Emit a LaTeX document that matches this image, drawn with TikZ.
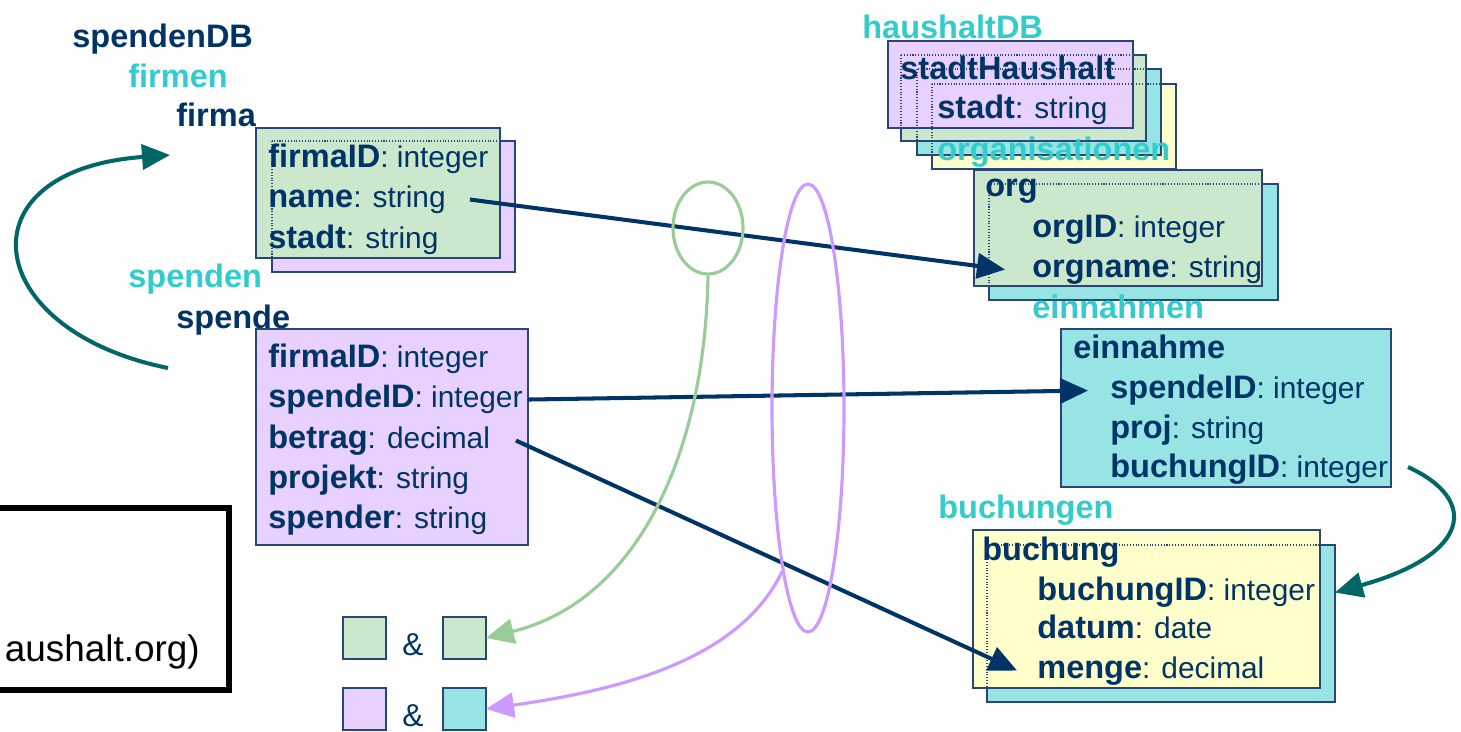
\documentclass[tikz,border=0pt]{standalone}
\usepackage{fontspec}
\setmainfont{Liberation Sans}
\usetikzlibrary{arrows.meta,shapes.geometric}

\definecolor{navy}{RGB}{0,51,102}
\definecolor{edgecol}{RGB}{40,70,120}
\definecolor{aqua}{RGB}{51,204,204}
\definecolor{mint}{RGB}{204,232,204}
\definecolor{lilac}{RGB}{232,208,255}
\definecolor{cyanfill}{RGB}{150,228,228}
\definecolor{cream}{RGB}{255,255,204}
\definecolor{loopcol}{RGB}{0,102,102}
\definecolor{leaf}{RGB}{153,204,153}
\definecolor{orchid}{RGB}{204,153,255}

% bold column name, then its type
\newcommand\colattr[2]{{\fontsize{18.5}{20}\selectfont\bfseries #1}: #2}

\tikzset{
  tbl/.style={draw=edgecol, line width=0.8pt, anchor=north west, inner sep=0pt, outer sep=0pt},
  hidden/.style={draw=edgecol, densely dotted, line width=0.6pt},
  fld/.style={anchor=base west, inner sep=0pt, text=navy, text height=12pt, text depth=3.5pt,
    font=\fontsize{17}{20}\selectfont},
  ent/.style={fld, font=\fontsize{18.5}{20}\selectfont\bfseries},
  coll/.style={ent, text=aqua},
  link/.style={navy, line width=2.3pt, -{Triangle[length=0.56cm,width=0.5cm]}},
  backlink/.style={loopcol, line width=2.3pt, -{Triangle[length=0.56cm,width=0.5cm]}},
  ring/.style={draw, ellipse, line width=1.8pt, inner sep=0pt},
}

\begin{document}
\begin{tikzpicture}[x=0.02cm, y=-0.02cm]
  \useasboundingbox (0,0) rectangle (1461,731);
  \clip (0,0) rectangle (1461,731);

  % spendenDB side
  \node[ent]  (dbSpenden)   at (72,47)   {spendenDB};
  \node[coll] (colFirmen)   at (128,87)  {firmen};
  \node[ent]  (entFirma)    at (176,126) {firma};
  \node[tbl, fill=lilac, minimum width=4.86cm, minimum height=2.62cm] (firmaBack) at (272,141) {};
  \node[tbl, fill=mint,  minimum width=4.88cm, minimum height=2.60cm] (firmaBox)  at (256,128) {};
  \draw[hidden] (firmaBack.north west) rectangle (firmaBack.south east);
  \node[fld] (fFirmaID) at (268,167) {\colattr{firmaID}{integer}};
  \node[fld] (fName)    at (268,207) {\colattr{name}{string}};
  \node[fld] (fStadt)   at (268,248) {\colattr{stadt}{string}};

  \node[coll] (colSpenden) at (128,287) {spenden};
  \node[ent]  (entSpende)  at (176,328) {spende};
  \node[tbl, fill=lilac, minimum width=5.44cm, minimum height=4.32cm] (spendeBox) at (256,329) {};
  \node[fld] (sFirmaID)  at (268,367) {\colattr{firmaID}{integer}};
  \node[fld] (sSpendeID) at (268,407) {\colattr{spendeID}{integer}};
  \node[fld] (sBetrag)   at (268,448) {\colattr{betrag}{decimal}};
  \node[fld] (sProjekt)  at (268,488) {\colattr{projekt}{string}};
  \node[fld] (sSpender)  at (268,528) {\colattr{spender}{string}};

  % haushaltDB side
  \node[coll] (dbHaushalt) at (862,38) {haushaltDB};
  \node[tbl, fill=cream,    minimum width=4.88cm, minimum height=1.70cm] (stackD) at (932,84) {};
  \node[tbl, fill=cyanfill, minimum width=4.88cm, minimum height=1.72cm] (stackC) at (917,69) {};
  \node[tbl, fill=mint,     minimum width=4.90cm, minimum height=1.72cm] (stackB) at (901,55) {};
  \node[tbl, fill=lilac,    minimum width=4.90cm, minimum height=1.74cm] (stackA) at (888,41) {};
  \draw[hidden] (stackB.north west) rectangle (stackB.south east);
  \draw[hidden] (stackC.north west) rectangle (stackC.south east);
  \draw[hidden] (stackD.north west) rectangle (stackD.south east);
  \node[ent] (entStadtHH) at (900,79)  {stadtHaushalt};
  \node[fld] (hStadt)     at (937,118) {\colattr{stadt}{string}};
  \node[coll] (colOrgs)   at (937,160) {organisationen};

  \node[tbl, fill=cyanfill, minimum width=5.78cm, minimum height=2.32cm] (orgBack) at (989,184) {};
  \node[tbl, fill=mint,     minimum width=5.76cm, minimum height=2.32cm] (orgBox)  at (974,170) {};
  \draw[hidden] (orgBack.north west) rectangle (orgBack.south east);
  \node[ent] (entOrg)   at (985,196)  {org};
  \node[fld] (oOrgID)   at (1032,237) {\colattr{orgID}{integer}};
  \node[fld] (oOrgname) at (1032,277) {\colattr{orgname}{string}};

  \node[coll] (colEinnahmen) at (1032,318) {einnahmen};
  \node[tbl, fill=cyanfill, minimum width=6.60cm, minimum height=3.16cm] (einBox) at (1061,329) {};
  \node[ent] (entEinnahme) at (1073,358) {einnahme};
  \node[fld] (eSpendeID)   at (1110,398) {\colattr{spendeID}{integer}};
  \node[fld] (eProj)       at (1110,438) {\colattr{proj}{string}};
  \node[fld] (eBuchungID)  at (1110,477) {\colattr{buchungID}{integer}};

  \node[coll] (colBuchungen) at (938,518) {buchungen};
  \node[tbl, fill=cyanfill, minimum width=6.96cm, minimum height=3.14cm] (buchBack) at (987,545) {};
  \node[tbl, fill=cream,    minimum width=6.94cm, minimum height=3.16cm] (buchBox)  at (973,530) {};
  \draw[hidden] (buchBack.north west) rectangle (buchBack.south east);
  \node[ent] (entBuchung) at (982,560)  {buchung};
  \node[fld] (bBuchungID) at (1037,600) {\colattr{buchungID}{integer}};
  \node[fld] (bDatum)     at (1037,638) {\colattr{datum}{date}};
  \node[fld] (bMenge)     at (1037,678) {\colattr{menge}{decimal}};

  % legend squares
  \node[tbl, fill=mint,     minimum width=0.86cm, minimum height=0.84cm] (sqA1) at (343,617) {};
  \node[tbl, fill=mint,     minimum width=0.86cm, minimum height=0.84cm] (sqA2) at (443,617) {};
  \node[tbl, fill=lilac,    minimum width=0.86cm, minimum height=0.84cm] (sqB1) at (343,688) {};
  \node[tbl, fill=cyanfill, minimum width=0.86cm, minimum height=0.84cm] (sqB2) at (443,688) {};
  \node[text=navy, font=\fontsize{18}{20}\selectfont] (ampA) at (413,645) {\&};
  \node[text=navy, font=\fontsize{18}{20}\selectfont] (ampB) at (413,716) {\&};

  % black frame, cut at the left edge
  \draw[line width=3.4pt] (-10,508) rectangle (229,690);
  \node[anchor=base east, inner sep=0pt, font=\fontsize{21}{24}\selectfont] (frameText) at (200,661) {aushalt.org)};

  % foreign keys
  \draw[link] ([xshift=-0.6cm]firmaBox.east |- fName.west) -- ([xshift=-0.54cm]oOrgname.west);
  \draw[link] (spendeBox.east |- sSpendeID.west) -- ([xshift=-0.44cm]eSpendeID.west);
  \draw[link] ([xshift=-0.24cm]spendeBox.east |- sBetrag.west) -- ([xshift=-0.4cm]bMenge.west);

  % curved arrows
  \coordinate (loopA) at (168,368);
  \coordinate (loopB) at (170,155);
  \draw[backlink] (loopA) .. controls (-20,330) and (-40,170) .. (loopB);
  \coordinate (loopC) at (1408,467);
  \draw[backlink] (loopC) .. controls (1480,500) and (1470,555) .. (buchBack.east |- bBuchungID.west);

  % groups
  \node[ring, draw=leaf, minimum width=1.4cm, minimum height=1.84cm] (grpA) at (708,228) {};
  \node[ring, draw=orchid, minimum width=1.44cm, minimum height=8.96cm] (grpB) at (808,408) {};
  \draw[leaf, line width=1.8pt, -{Triangle[length=0.56cm,width=0.5cm]}]
    (grpA.south) .. controls (705,450) and (640,600) .. (sqA2.east);
  \draw[orchid, line width=1.8pt, -{Triangle[length=0.56cm,width=0.5cm]}]
    (grpB.261) .. controls (740,660) and (620,690) .. (sqB2.east);
\end{tikzpicture}
\end{document}
